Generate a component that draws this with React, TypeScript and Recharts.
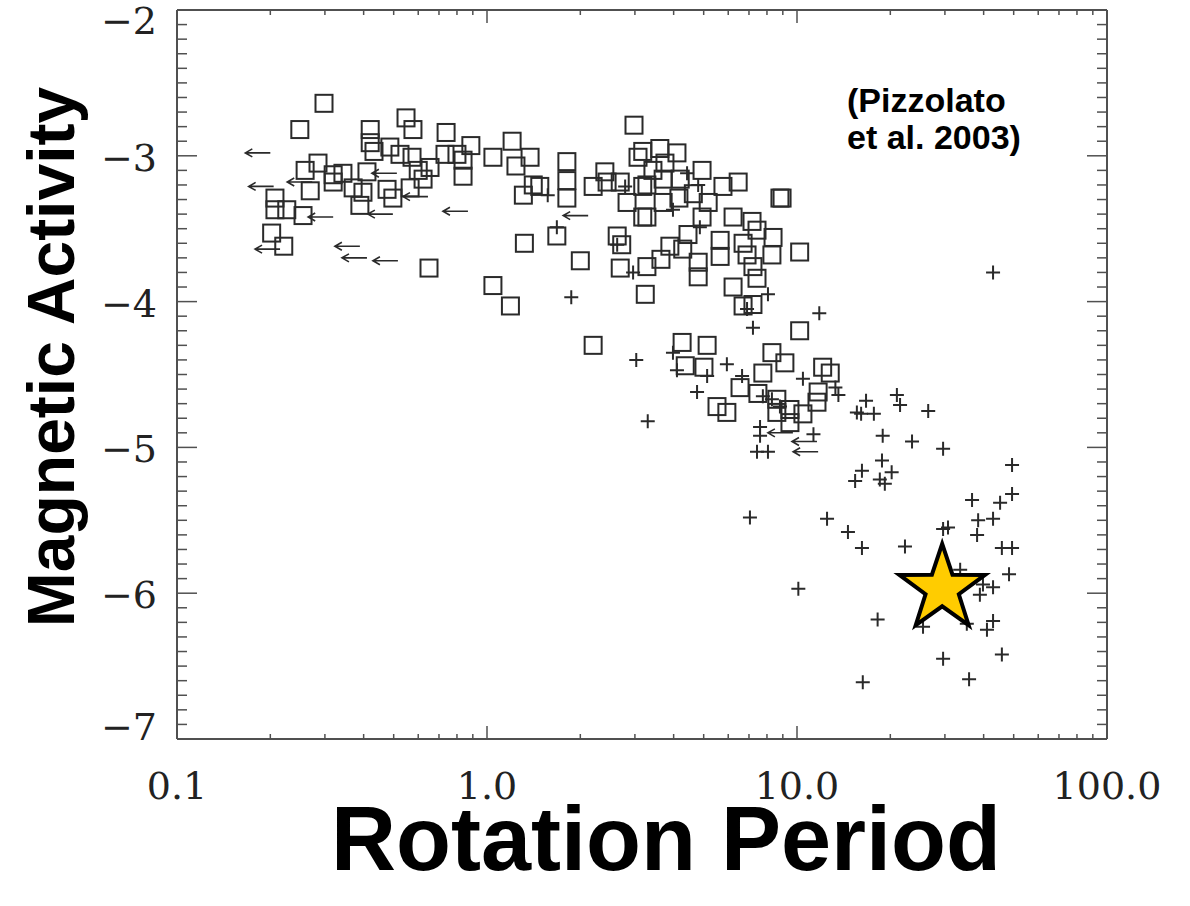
import React from 'react';
import { ScatterChart, Scatter, XAxis, YAxis, Customized } from 'recharts';

// [rotation period (d), log magnetic activity]
const squarePoints: [number, number][] = [
  [0.298, -2.64], [0.249, -2.82], [0.42, -2.82], [0.548, -2.74], [0.577, -2.82], [0.738, -2.84],
  [0.887, -2.93], [1.045, -3.01], [0.42, -2.91], [0.432, -2.97], [0.486, -2.94], [0.524, -2.99],
  [0.573, -3.01], [0.732, -2.99], [0.8, -2.99], [0.837, -3.03], [0.837, -3.14], [0.285, -3.05],
  [0.259, -3.1], [0.319, -3.13], [0.343, -3.12], [0.319, -3.18], [0.41, -3.11], [0.269, -3.24],
  [0.37, -3.22], [0.398, -3.25], [0.476, -3.23], [0.497, -3.29], [0.565, -3.22], [0.6, -3.1],
  [0.622, -3.16], [0.655, -3.08], [0.207, -3.29], [0.207, -3.37], [0.226, -3.37], [0.255, -3.41],
  [0.389, -3.34], [0.202, -3.53], [0.221, -3.62], [0.65, -3.77], [1.045, -3.89],
  [2.98, -2.79], [1.205, -2.9], [1.377, -3.01], [1.24, -3.07], [1.81, -3.04], [1.41, -3.2],
  [1.48, -3.21], [1.31, -3.27], [1.81, -3.17], [1.81, -3.29], [2.2, -3.21], [2.4, -3.11],
  [2.44, -3.18], [2.69, -3.18], [2.83, -3.32], [3.18, -3.21], [3.07, -3.01], [3.18, -3.42],
  [1.68, -3.55], [1.32, -3.6], [2.63, -3.55], [2.72, -3.61], [2.0, -3.72], [2.69, -3.77],
  [3.28, -3.76], [1.19, -4.03], [3.24, -3.95],
  [3.61, -2.95], [4.1, -2.98], [3.18, -2.97], [3.75, -3.05], [4.94, -3.1], [3.7, -3.16],
  [3.28, -3.2], [3.43, -3.1], [4.2, -3.16], [5.77, -3.21], [6.46, -3.18], [8.81, -3.29],
  [8.95, -3.29], [3.7, -3.32], [4.16, -3.29], [4.63, -3.26], [5.17, -3.32], [3.28, -3.42],
  [4.94, -3.42], [6.22, -3.42], [7.16, -3.45], [7.43, -3.51], [4.45, -3.54], [5.65, -3.58],
  [8.37, -3.56], [6.7, -3.6], [3.89, -3.62], [4.28, -3.64], [3.64, -3.71], [4.8, -3.73],
  [5.65, -3.69], [6.9, -3.68], [8.3, -3.68], [10.2, -3.66], [4.8, -3.83], [7.43, -3.84],
  [7.21, -3.76], [6.22, -3.9], [6.7, -4.03], [7.21, -4.02],
  [2.2, -4.3], [10.2, -4.2], [4.26, -4.28], [5.13, -4.3], [4.36, -4.44], [5.01, -4.45],
  [8.3, -4.35], [9.14, -4.42], [7.76, -4.49], [12.1, -4.45], [12.8, -4.49], [6.55, -4.59],
  [7.48, -4.63], [5.52, -4.72], [5.94, -4.76], [8.61, -4.67], [9.49, -4.74], [10.45, -4.77],
  [11.6, -4.69], [11.7, -4.62], [9.49, -4.83], [8.61, -4.76],
];

const plusPoints: [number, number][] = [
  [1.57, -3.27], [2.79, -3.21], [1.68, -3.49], [2.63, -3.61], [2.96, -3.8], [1.87, -3.97],
  [4.8, -3.2], [4.42, -3.12], [3.98, -3.37], [4.86, -3.49], [8.06, -3.95], [6.9, -4.05],
  [7.21, -4.18], [11.8, -4.08], [3.03, -4.4], [3.98, -4.35], [4.1, -4.47], [5.13, -4.51],
  [5.94, -4.43], [6.65, -4.51], [4.76, -4.62], [3.3, -4.82], [7.76, -4.65], [8.3, -4.67],
  [8.81, -4.72], [10.45, -4.53], [13.3, -4.59], [13.6, -4.64], [7.6, -4.86], [7.6, -4.92],
  [7.43, -5.03], [8.06, -5.03], [11.3, -4.91], [15.6, -4.76], [42.9, -3.8], [16.7, -4.68],
  [21.0, -4.64], [21.5, -4.71], [16.1, -4.77], [17.7, -4.77], [26.5, -4.75], [18.9, -4.92],
  [23.5, -4.96], [29.6, -5.01], [49.4, -5.12], [18.8, -5.09], [16.2, -5.16], [15.4, -5.23],
  [18.5, -5.22], [20.2, -5.17], [19.2, -5.25], [36.7, -5.36], [45.2, -5.38], [49.4, -5.32],
  [12.5, -5.49], [14.6, -5.58], [38.4, -5.5], [42.9, -5.49], [29.6, -5.56], [30.7, -5.55],
  [38.1, -5.6], [16.2, -5.69], [22.3, -5.68], [45.8, -5.69], [49.4, -5.69], [33.6, -5.84],
  [48.3, -5.87], [10.1, -5.97], [38.9, -6.01], [42.9, -5.96], [39.8, -5.94], [18.2, -6.18],
  [25.5, -6.23], [35.3, -6.21], [41.0, -6.25], [42.9, -6.19], [45.8, -6.42], [29.6, -6.45],
  [35.9, -6.59], [16.3, -6.61], [7.05, -5.48],
];

// upper limits on period, drawn as left arrows
const limitPoints: [number, number][] = [
  [0.2, -2.98], [0.205, -3.21], [0.273, -3.18], [0.319, -3.42], [0.497, -3.4], [0.868, -3.38],
  [0.215, -3.64], [0.389, -3.62], [0.41, -3.7], [0.516, -3.72], [0.512, -3.12], [0.645, -3.28],
  [2.12, -3.41], [11.7, -5.03], [11.6, -4.96], [9.7, -4.9],
];

const sunPoint: [number, number][] = [[29.4, -5.97]];

const xMajor = [0.1, 1, 10, 100];
const xMajorLabels = ['0.1', '1.0', '10.0', '100.0'];
const yMajor = [-7, -6, -5, -4, -3, -2];

const rows = (pts: [number, number][]) => pts.map(([p, a]) => ({ p, a }));

const xTicks = xMajor
  .slice(0, -1)
  .flatMap((d) => [1, 2, 3, 4, 5, 6, 7, 8, 9].map((m) => Number((d * m).toPrecision(3))))
  .concat([100]);
const yTicks = Array.from({ length: 51 }, (_, i) => (yMajor[0] * 10 + i) / 10);

const AXIS = '#505050';
const INK = '#2a2a2a';
const SERIF = '"DejaVu Serif", serif';
const SANS = '"Liberation Sans", Arial, sans-serif';

const majorX = (v: number) => xMajor.findIndex((m) => Math.abs(m - v) < 1e-9);
const majorY = (v: number) => Math.abs(v - Math.round(v)) < 1e-9;

function BottomTick({ x, y, payload }: any) {
  const i = majorX(payload.value);
  return (
    <g>
      <line x1={x} x2={x} y1={y} y2={y - (i >= 0 ? 13 : 5)} stroke={AXIS} strokeWidth={1.5} />
      {i >= 0 && (
        <text x={x} y={y + 60} textAnchor="middle" fontFamily={SERIF} fontSize={38} fill="#222">
          {xMajorLabels[i]}
        </text>
      )}
    </g>
  );
}

function TopTick({ x, y, payload }: any) {
  const i = majorX(payload.value);
  return <line x1={x} x2={x} y1={y} y2={y + (i >= 0 ? 13 : 5)} stroke={AXIS} strokeWidth={1.5} />;
}

function LeftTick({ x, y, payload }: any) {
  const v = payload.value;
  const major = majorY(v);
  const dy = v === -2 ? 24 : v === -7 ? 1 : 15;
  return (
    <g>
      <line x1={x} x2={x + (major ? 20 : 10)} y1={y} y2={y} stroke={AXIS} strokeWidth={1.5} />
      {major && (
        <text x={x - 20} y={y + dy} textAnchor="end" fontFamily={SERIF} fontSize={38} fill="#222">
          {'\u2212' + Math.abs(v)}
        </text>
      )}
    </g>
  );
}

function RightTick({ x, y, payload }: any) {
  const major = majorY(payload.value);
  return <line x1={x} x2={x - (major ? 20 : 10)} y1={y} y2={y} stroke={AXIS} strokeWidth={1.5} />;
}

const Square = ({ cx, cy }: any) => (
  <rect x={cx - 8.5} y={cy - 8.5} width={17} height={17} fill="none" stroke={INK} strokeWidth={2} />
);

const Plus = ({ cx, cy }: any) => (
  <path d={`M${cx - 7},${cy}H${cx + 7}M${cx},${cy - 7}V${cy + 7}`} stroke={INK} strokeWidth={2} fill="none" />
);

const LeftArrow = ({ cx, cy }: any) => (
  <path
    d={`M${cx},${cy}H${cx - 25}M${cx - 18},${cy - 4}L${cx - 25},${cy}L${cx - 18},${cy + 4}`}
    stroke={INK}
    strokeWidth={1.6}
    fill="none"
  />
);

const Star = ({ cx, cy }: any) => {
  const pts = Array.from({ length: 10 }, (_, k) => {
    const r = k % 2 === 0 ? 45 : 17.5;
    const ang = -Math.PI / 2 + (k * Math.PI) / 5;
    return `${cx + r * Math.cos(ang)},${cy + r * Math.sin(ang)}`;
  }).join(' ');
  return <polygon points={pts} fill="#FFCC00" stroke="#000" strokeWidth={4} strokeLinejoin="miter" />;
};

const Titles = () => (
  <g>
    <text x={666} y={870} textAnchor="middle" fontFamily={SANS} fontWeight="bold" fontSize={90} fill="#000">
      Rotation Period
    </text>
    <text
      x={74}
      y={357}
      transform="rotate(-90 74 357)"
      textAnchor="middle"
      fontFamily={SANS}
      fontWeight="bold"
      fontSize={66}
      fill="#000"
    >
      Magnetic Activity
    </text>
    <text x={847} y={112} fontFamily={SANS} fontWeight="bold" fontSize={34} fill="#000">
      (Pizzolato
    </text>
    <text x={847} y={149} fontFamily={SANS} fontWeight="bold" fontSize={34} fill="#000">
      et al. 2003)
    </text>
  </g>
);

export default function App() {
  return (
    <div style={{ position: 'absolute', left: 0, top: 0, background: '#fff' }}>
      <ScatterChart width={1190} height={906} margin={{ top: 0, right: 23, bottom: 137, left: 117 }}>
        <XAxis
          xAxisId="b"
          dataKey="p"
          type="number"
          scale="log"
          domain={[0.1, 100]}
          allowDataOverflow
          ticks={xTicks}
          interval={0}
          height={30}
          tickSize={0}
          tickMargin={0}
          tickLine={false}
          axisLine={{ stroke: AXIS, strokeWidth: 2 }}
          tick={<BottomTick />}
        />
        <XAxis
          xAxisId="t"
          orientation="top"
          dataKey="p"
          type="number"
          scale="log"
          domain={[0.1, 100]}
          allowDataOverflow
          ticks={xTicks}
          interval={0}
          height={10}
          tickSize={0}
          tickMargin={0}
          tickLine={false}
          axisLine={{ stroke: AXIS, strokeWidth: 2 }}
          tick={<TopTick />}
        />
        <YAxis
          yAxisId="l"
          dataKey="a"
          type="number"
          domain={[-7, -2]}
          allowDataOverflow
          ticks={yTicks}
          interval={0}
          width={60}
          tickSize={0}
          tickMargin={0}
          tickLine={false}
          axisLine={{ stroke: AXIS, strokeWidth: 2 }}
          tick={<LeftTick />}
        />
        <YAxis
          yAxisId="r"
          orientation="right"
          dataKey="a"
          type="number"
          domain={[-7, -2]}
          allowDataOverflow
          ticks={yTicks}
          interval={0}
          width={60}
          tickSize={0}
          tickMargin={0}
          tickLine={false}
          axisLine={{ stroke: AXIS, strokeWidth: 2 }}
          tick={<RightTick />}
        />
        <Scatter xAxisId="b" yAxisId="l" data={rows(squarePoints)} shape={<Square />} isAnimationActive={false} />
        <Scatter xAxisId="b" yAxisId="l" data={rows(plusPoints)} shape={<Plus />} isAnimationActive={false} />
        <Scatter xAxisId="b" yAxisId="l" data={rows(limitPoints)} shape={<LeftArrow />} isAnimationActive={false} />
        <Scatter xAxisId="t" yAxisId="r" data={rows(sunPoint)} shape={<Star />} isAnimationActive={false} />
        <Customized component={Titles} />
      </ScatterChart>
    </div>
  );
}
